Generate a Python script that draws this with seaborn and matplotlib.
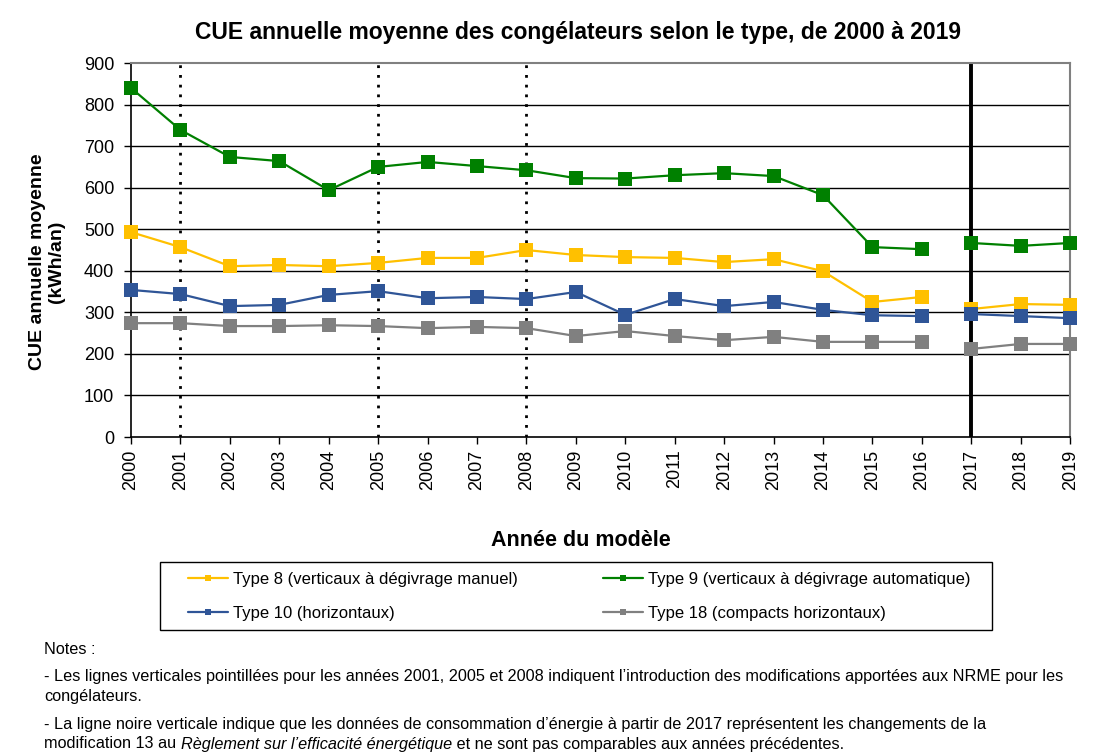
import numpy as np
import pandas as pd
import matplotlib.pyplot as plt
import matplotlib.patches as mpatches
import seaborn as sns

years = list(range(2000, 2020))

type8 = [493, 457, 411, 414, 411, 419, 431, 431, 450, 438,
         433, 431, 421, 428, 399, 325, 337, 308, 320, 318]
type9 = [840, 739, 674, 664, 594, 650, 662, 652, 642, 623,
         622, 630, 635, 628, 582, 457, 452, 467, 460, 467]
type10 = [354, 344, 315, 318, 342, 351, 334, 337, 332, 349,
          294, 332, 315, 325, 306, 293, 291, 296, 291, 286]
type18 = [274, 274, 267, 267, 269, 267, 262, 265, 262, 243,
          255, 243, 233, 241, 229, 229, 229, 212, 224, 224]

labels = ["Type 8 (verticaux à dégivrage manuel)",
          "Type 9 (verticaux à dégivrage automatique)",
          "Type 10 (horizontaux)",
          "Type 18 (compacts horizontaux)"]
colors = ["#FFC000", "#008000", "#2F5597", "#808080"]
series = [type8, type9, type10, type18]

dotted_years = [2001, 2005, 2008]
break_year = 2017

sns.set_style("white")
plt.rcParams['font.family'] = ['Liberation Sans', 'DejaVu Sans']
for k in ["text.color", "axes.labelcolor", "xtick.color", "ytick.color"]:
    plt.rcParams[k] = "black"

fig = plt.figure(figsize=(11.01, 7.54), dpi=100)
ax = fig.add_axes([0.119, 0.4204, 0.853, 0.496])

for vals, lab, col in zip(series, labels, colors):
    df = pd.DataFrame({"year": years, "val": vals})
    # la série est interrompue entre 2016 et 2017
    df["part"] = np.where(df["year"] >= break_year, 1, 0)
    for part, sub in df.groupby("part"):
        sns.lineplot(data=sub, x="year", y="val", ax=ax, color=col,
                     marker="s", markersize=10, markeredgewidth=0,
                     linewidth=1.6, label=lab if part == 0 else None,
                     legend=False, clip_on=False, zorder=3)

for y in range(100, 900, 100):
    ax.axhline(y, color="black", linewidth=1.0, zorder=0)
for yr in dotted_years:
    ax.axvline(yr, color="black", linestyle=(0, (1, 2.5)), linewidth=2.0, zorder=1)
ax.axvline(break_year, color="black", linewidth=2.8, zorder=1)

ax.set_xlim(2000, 2019)
ax.set_ylim(0, 900)
ax.set_xticks(years)
ax.set_xticklabels([str(y) for y in years], rotation=90, fontsize=13)
ax.set_yticks(range(0, 1000, 100))
ax.tick_params(axis="y", labelsize=13, length=5, width=1, direction="out", left=True, pad=7)
ax.tick_params(axis="x", length=5, width=1, direction="out", bottom=True, pad=4)

for side in ["left", "bottom"]:
    ax.spines[side].set_color("black")
    ax.spines[side].set_linewidth(1.2)
for side in ["top", "right"]:
    ax.spines[side].set_color("#808080")
    ax.spines[side].set_linewidth(1.5)

ax.set_xlabel("")
ax.set_ylabel("")
fig.text(0.0425, 0.6525, "CUE annuelle moyenne\n(kWh/an)", rotation=90,
         ha="center", va="center", fontsize=14, fontweight="bold", linespacing=1.15)
fig.text(0.525, 0.957, "CUE annuelle moyenne des congélateurs selon le type, de 2000 à 2019",
         ha="center", va="center", fontsize=16.5, fontweight="bold")
fig.text(0.528, 0.283, "Année du modèle", ha="center", va="center",
         fontsize=15.5, fontweight="bold")

handles, labs = ax.get_legend_handles_labels()
order = [0, 2, 1, 3]
leg = fig.legend([handles[i] for i in order], [labs[i] for i in order],
                 ncol=2, loc="upper left", bbox_to_anchor=(188 / 1101, 1 - 572 / 754),
                 fontsize=12, frameon=False, borderpad=0, labelspacing=1.15,
                 handlelength=2.4, handletextpad=0.3, columnspacing=5.1,
                 markerscale=0.5, borderaxespad=0)
fig.patches.append(mpatches.Rectangle((160 / 1101, 1 - 630 / 754), 832 / 1101, 68 / 754,
                                      transform=fig.transFigure, fill=False,
                                      edgecolor="black", linewidth=1.0))

notes_fs = 11.7
fig.text(0.040, 1 - 649 / 754, "Notes :", fontsize=notes_fs, va="center")
fig.text(0.040, 1 - 677 / 754, "- Les lignes verticales pointillées pour les années 2001, 2005 et 2008 indiquent l’introduction des modifications apportées aux NRME pour les",
         fontsize=notes_fs, va="center")
fig.text(0.040, 1 - 697 / 754, "congélateurs.", fontsize=notes_fs, va="center")
fig.text(0.040, 1 - 724 / 754, "- La ligne noire verticale indique que les données de consommation d’énergie à partir de 2017 représentent les changements de la",
         fontsize=notes_fs, va="center")
y_last = 1 - 744 / 754
t1 = fig.text(0.040, y_last, "modification 13 au ", fontsize=notes_fs, va="center")
fig.canvas.draw()
r = fig.canvas.get_renderer()
x2 = t1.get_window_extent(renderer=r).x1 / fig.bbox.width
t2 = fig.text(x2, y_last, "Règlement sur l’efficacité énergétique", fontsize=notes_fs,
              va="center", style="italic")
x3 = t2.get_window_extent(renderer=r).x1 / fig.bbox.width
fig.text(x3, y_last, " et ne sont pas comparables aux années précédentes.",
         fontsize=notes_fs, va="center")

fig.savefig("out.png", dpi=100)
